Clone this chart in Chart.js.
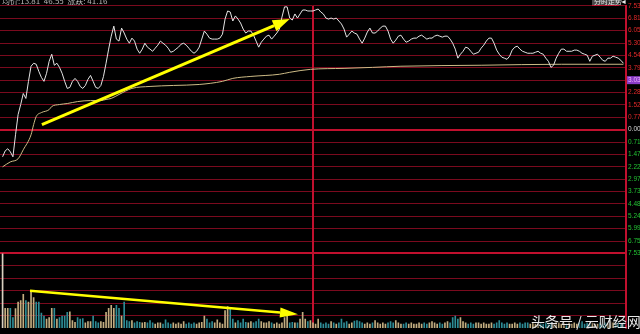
<!DOCTYPE html>
<html>
<head>
<meta charset="utf-8">
<script src="https://cdn.jsdelivr.net/npm/chart.js@4/dist/chart.umd.min.js"></script>
<style>
  html, body { margin: 0; padding: 0; background: #000; overflow: hidden; }
  #wrap { width: 640px; height: 334px; position: relative; }
</style>
</head>
<body>
<div id="wrap"><canvas id="c"></canvas></div>
<script>
// minute-by-minute price, % change vs previous close (minute 0 = 9:30)
const pricePct = [
  -1.65, -1.29, -1.16, -1.35, -1.65, -0.31, 0.92, 1.53, 2.20, 1.90,
  2.94, 3.86, 4.04, 3.98, 3.55, 3.18, 2.94, 3.43, 4.16, 4.59,
  3.92, 4.04, 3.79, 3.43, 2.94, 2.51, 2.57, 2.94, 3.12, 2.94,
  2.63, 2.51, 2.69, 3.06, 3.30, 2.94, 2.57, 2.51, 2.69, 3.24,
  4.04, 4.90, 5.69, 6.30, 5.51, 5.39, 6.18, 5.88, 5.51, 5.26,
  5.57, 5.39, 4.90, 4.65, 4.90, 5.26, 5.02, 4.90, 4.77, 4.96,
  5.14, 5.39, 5.26, 5.14, 4.96, 4.71, 4.77, 4.90, 5.02, 5.20,
  5.26, 5.14, 4.96, 4.77, 4.65, 4.77, 5.02,
  5.51, 6.00, 5.81, 5.57, 5.51, 5.51, 5.51, 5.57, 5.81, 6.73,
  7.22, 7.16, 6.61, 6.92, 6.73, 6.49, 6.12, 5.88, 6.00, 6.00,
  5.75, 5.39, 5.02, 5.32, 5.51, 5.69, 5.75, 5.51, 5.69, 5.88,
  6.12, 6.85, 7.47, 7.47, 6.79, 6.67, 7.04, 6.79, 7.04, 7.28,
  7.28, 7.22, 7.22, 7.22, 7.28, 7.34, 7.16, 7.04, 6.79, 6.73,
  6.79, 6.73, 6.79, 6.61, 6.43, 6.12, 5.63, 5.81, 6.00, 5.88,
  5.81, 5.51, 5.26, 5.57, 5.94, 6.18, 5.88, 5.88, 6.00, 6.18,
  6.30, 6.30, 6.00, 5.51, 5.26, 5.45, 5.69, 5.75, 5.51, 5.32,
  5.39, 5.51, 5.57, 5.57, 5.69, 5.75, 5.63, 5.51, 5.57, 5.57,
  5.69, 5.75, 5.69, 5.63, 5.69, 5.69, 5.51, 5.26, 4.90, 4.35,
  4.59, 4.77, 5.02, 4.96, 4.77, 4.59, 4.65, 4.71, 4.96, 5.14,
  5.39, 5.57, 5.57, 5.26, 4.84, 4.59, 4.41, 4.35, 4.28, 4.47,
  4.84, 5.02, 5.08, 4.90, 4.77, 4.71, 4.65, 4.65, 4.65, 4.71,
  4.77, 4.65, 4.59, 4.35, 4.16, 3.79, 3.92, 4.35, 4.65, 4.90,
  4.90, 4.77, 4.77, 4.77, 4.84, 4.84, 4.77, 4.65, 4.59, 4.53,
  4.16, 4.47, 4.53, 4.59, 4.41, 4.22, 4.16, 4.35, 4.35, 4.47,
  4.41, 4.35, 4.22, 4.04
];

// average price line (sampled minutes)
const avgMin = [0, 3, 6, 8, 11, 12, 13, 15, 18, 19, 22, 25, 29, 34, 38, 40, 42, 45, 50, 57, 66, 76, 85, 89, 96, 107, 111, 119, 132, 143, 154, 185, 216, 240];
const avgPct = [-2.26, -1.96, -1.77, -1.22, -0.31, 0.31, 0.80, 1.04, 1.22, 1.41, 1.53, 1.59, 1.71, 1.77, 1.77, 1.84, 1.90, 2.14, 2.51, 2.63, 2.69, 2.75, 2.94, 3.12, 3.24, 3.37, 3.49, 3.67, 3.73, 3.79, 3.86, 3.92, 3.98, 3.98];

// volume per minute
const volume = [
  6000, 1590, 1590, 1590, 840, 1570, 2090, 2215, 2710, 2215,
  2090, 2960, 2460, 2090, 2090, 1215, 970, 720, 840, 1590,
  1590, 720, 840, 970, 970, 1270, 1300, 600, 470, 840,
  720, 770, 430, 520, 520, 970, 520, 430, 520, 470,
  1270, 1590, 1840, 1590, 1840, 1590, 970, 2090, 600, 520,
  600, 430, 520, 470, 430, 470, 430, 600, 430, 320,
  430, 430, 320, 670, 430, 320, 430, 320, 430, 320,
  520, 320, 430, 320, 430, 320, 430, 470, 970, 720,
  430, 520, 430, 670, 430, 320, 1400, 1720, 1590, 720,
  430, 600, 430, 720, 470, 430, 520, 430, 520, 720,
  520, 430, 430, 520, 430, 320, 430, 320, 430, 840,
  970, 430, 470, 430, 430, 720, 1270, 720, 520, 600,
  430, 320, 720, 430,
  320, 430, 320, 520, 430, 320, 430, 720,
  430, 520, 320, 430, 560, 600, 520, 430, 320, 430, 320, 430,
  600, 430, 320, 430, 320, 430, 520, 430, 600,
  430, 320, 320, 430, 320, 430, 320, 320, 430, 320,
  430, 320, 430, 520, 430, 320, 430, 320, 430, 520, 430,
  840, 970, 720, 840, 520,
  430, 320, 430, 320, 430, 430, 320, 430, 320, 320, 430, 320, 430,
  600,
  430, 320, 430, 320, 320, 430, 320, 430, 320, 430,
  430, 320, 430, 320, 320, 430, 320, 430, 320, 430,
  320, 520, 430, 320, 430, 320, 430, 320, 430, 320,
  430, 520, 320, 430, 320, 430, 320, 320, 430, 320,
  430, 320, 520, 430, 320, 430, 320, 430
];

// right axis labels, top to bottom
const yTickLabels = ['7.53%', '6.81%', '6.05%', '5.30%', '4.54%', '3.79%', '3.03%', '2.28%', '1.52%', '0.77%', '0.00%',
  '0.71%', '1.47%', '2.22%', '2.97%', '3.73%', '4.48%', '5.24%', '5.99%', '6.75%', '7.53%'];
const highlightLabel = '3.03%';
const middayMinute = 120;

// yellow arrows: [fromMinute, fromValue, toMinute, toValue]
const priceArrow = [15.2, 0.31, 111, 6.73];
const volumeArrow = [10.6, 3000, 114.2, 1120];

const topText = '均价:13.81  46.55  涨跌: 41.16';
const boxText = '分时走势';
const watermark = '头条号 / 云财经网';

const RED_DIM = '#7a0a1e';
const RED = '#c0102e';
const tickVals = yTickLabels.map((_, i) => Math.round((-7.53 + i * 0.753) * 1000) / 1000);

const barColors = volume.map((v, i) => {
  if (i === 0) return '#d8d0c0';
  return pricePct[i] >= pricePct[i - 1] ? '#c2ad80' : '#2e8c96';
});

function arrow(ctx, x1, y1, x2, y2, w, hl, hw) {
  const a = Math.atan2(y2 - y1, x2 - x1);
  const bx = x2 - hl * Math.cos(a), by = y2 - hl * Math.sin(a);
  ctx.strokeStyle = '#ffff00';
  ctx.fillStyle = '#ffff00';
  ctx.lineWidth = w;
  ctx.beginPath();
  ctx.moveTo(x1, y1);
  ctx.lineTo(bx, by);
  ctx.stroke();
  ctx.beginPath();
  ctx.moveTo(x2, y2);
  ctx.lineTo(bx - hw * Math.sin(a), by + hw * Math.cos(a));
  ctx.lineTo(bx + hw * Math.sin(a), by - hw * Math.cos(a));
  ctx.closePath();
  ctx.fill();
}

const overlay = {
  id: 'overlay',
  beforeDatasetsDraw(chart) {
    const { ctx, scales, chartArea } = chart;
    const mx = Math.round(scales.x.getPixelForValue(middayMinute));
    ctx.save();
    ctx.fillStyle = RED;
    ctx.fillRect(mx - 1, chartArea.top, 2, chartArea.bottom - chartArea.top);
    ctx.restore();
  },
  afterDatasetsDraw(chart) {
    const { ctx, scales } = chart;
    const x = scales.x, y = scales.y, yv = scales.yVol;
    ctx.save();
    arrow(ctx, x.getPixelForValue(priceArrow[0]), y.getPixelForValue(priceArrow[1]),
      x.getPixelForValue(priceArrow[2]), y.getPixelForValue(priceArrow[3]), 3, 17, 6);
    arrow(ctx, x.getPixelForValue(volumeArrow[0]), yv.getPixelForValue(volumeArrow[1]),
      x.getPixelForValue(volumeArrow[2]), yv.getPixelForValue(volumeArrow[3]), 2.5, 18, 5);
    ctx.restore();
  },
  afterDraw(chart) {
    const { ctx, scales, chartArea } = chart;
    const y = scales.y;
    ctx.save();
    // highlighted label
    const hi = yTickLabels.indexOf(highlightLabel);
    const hy = y.getPixelForValue(tickVals[20 - hi]);
    ctx.fillStyle = '#8a3cc8';
    ctx.fillRect(chartArea.right + 1, hy - 4, 14, 8);
    ctx.fillStyle = '#f0b0ff';
    ctx.font = '6.5px "Liberation Sans"';
    ctx.textBaseline = 'middle';
    ctx.textAlign = 'left';
    ctx.fillText(highlightLabel, chartArea.right + 2, hy);
    // top-left info text
    ctx.fillStyle = '#b8b8b8';
    ctx.font = '8px "Noto Sans CJK SC"';
    ctx.textBaseline = 'alphabetic';
    ctx.fillText(topText, 2, 4);
    // top-right box
    ctx.fillStyle = '#4a4a4a';
    ctx.fillRect(chartArea.right - 34, 0, 27, 5);
    ctx.fillStyle = RED;
    ctx.fillRect(chartArea.right - 34, 5, 27, 1);
    ctx.fillStyle = '#e8e8e8';
    ctx.font = '7px "Noto Sans CJK SC"';
    ctx.fillText(boxText, chartArea.right - 32, 4);
    ctx.fillText('◄', chartArea.right - 6, 4);
    // watermark
    ctx.font = '14px "Noto Sans CJK SC"';
    ctx.textBaseline = 'middle';
    ctx.shadowColor = 'rgba(0,0,0,0.9)';
    ctx.shadowBlur = 2;
    ctx.shadowOffsetX = 1;
    ctx.shadowOffsetY = 1;
    ctx.fillStyle = '#e6e6e6';
    ctx.fillText(watermark, 531, 322);
    ctx.restore();
  }
};

new Chart(document.getElementById('c'), {
  data: {
    datasets: [
      {
        type: 'line',
        label: '价格',
        data: pricePct.map((v, i) => ({ x: i, y: v })),
        yAxisID: 'y',
        borderColor: '#e4e4e4',
        borderWidth: 1,
        pointRadius: 0,
        order: 1
      },
      {
        type: 'line',
        label: '均价',
        data: avgMin.map((m, i) => ({ x: m, y: avgPct[i] })),
        yAxisID: 'y',
        borderColor: '#cdbb86',
        borderWidth: 1,
        pointRadius: 0,
        cubicInterpolationMode: 'monotone',
        order: 2
      },
      {
        type: 'bar',
        label: '成交量',
        data: volume.map((v, i) => ({ x: i, y: v })),
        yAxisID: 'yVol',
        backgroundColor: barColors,
        barThickness: 1,
        order: 3
      }
    ]
  },
  options: {
    responsive: true,
    maintainAspectRatio: false,
    animation: false,
    devicePixelRatio: 1,
    layout: { padding: { top: 5, bottom: 1, left: 0, right: 0 } },
    plugins: { legend: { display: false }, tooltip: { enabled: false } },
    scales: {
      x: {
        type: 'linear',
        min: -1,
        max: 241,
        offset: false,
        ticks: { display: false },
        grid: { display: false, offset: false },
        border: { display: false },
        afterFit: s => { s.height = 0; }
      },
      y: {
        type: 'linear',
        position: 'right',
        stack: 'right',
        stackWeight: 252,
        min: -7.53,
        max: 7.53,
        afterBuildTicks: s => { s.ticks = tickVals.map(v => ({ value: v })); },
        afterFit: s => { s.width = 14; },
        ticks: {
          autoSkip: false,
          padding: 2,
          font: { family: 'Liberation Sans', size: 6.5 },
          color: c => {
            const t = 20 - c.index;
            return t < 10 ? '#e02828' : t === 10 ? '#d8d8d8' : '#22c032';
          },
          callback: (v, i) => yTickLabels[20 - i]
        },
        grid: {
          drawTicks: false,
          color: c => Math.abs(c.tick.value) < 1e-6 ? RED : (c.index === 0 ? 'transparent' : RED_DIM),
          lineWidth: c => Math.abs(c.tick.value) < 1e-6 ? 2 : 1
        },
        border: { display: true, color: RED, width: 2 }
      },
      yVol: {
        type: 'linear',
        position: 'right',
        stack: 'right',
        stackWeight: 76,
        min: 0,
        max: 6000,
        ticks: { display: false, stepSize: 1000 },
        afterFit: s => { s.width = 14; },
        grid: {
          drawTicks: false,
          color: c => c.tick.value === 6000 ? RED : (c.tick.value === 0 ? 'transparent' : RED_DIM),
          lineWidth: c => c.tick.value === 6000 ? 2 : 1
        },
        border: { display: true, color: RED, width: 2 }
      }
    }
  },
  plugins: [overlay]
});
</script>
</body>
</html>
